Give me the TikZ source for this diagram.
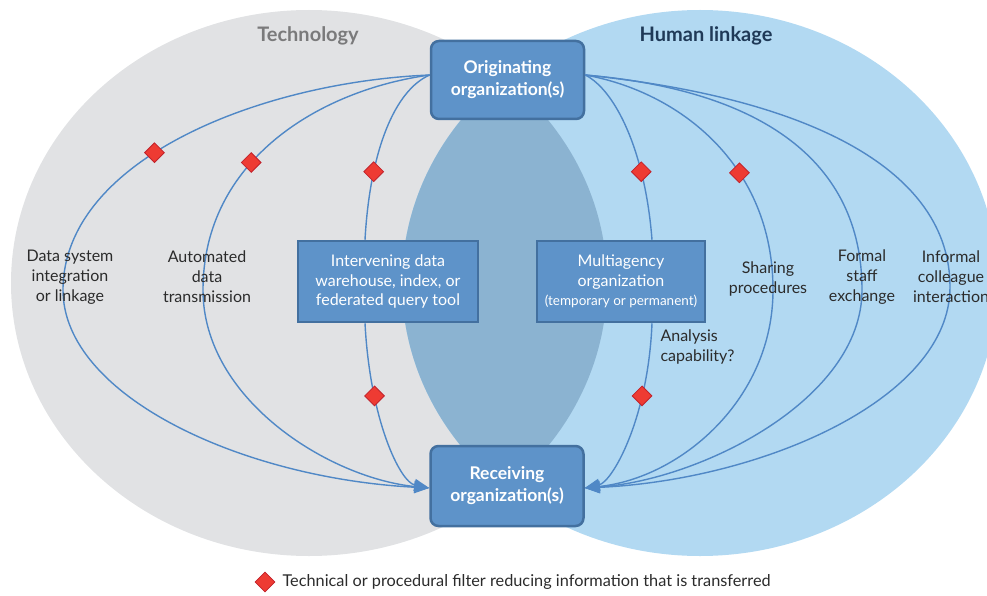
\documentclass[tikz,border=0pt]{standalone}
\usepackage{fontspec}
\setmainfont{Lato}
\usetikzlibrary{shapes.geometric,arrows.meta}
\definecolor{techgray}{HTML}{E1E2E4}
\definecolor{humanblue}{HTML}{B2D9F2}
\definecolor{overlapblue}{HTML}{8BB3D1}
\definecolor{boxfill}{HTML}{5E93C9}
\definecolor{boxedge}{HTML}{43709F}
\definecolor{linkblue}{HTML}{5088C6}
\definecolor{filtred}{HTML}{EE3B33}
\definecolor{filtedge}{HTML}{C1222B}
\definecolor{techtitle}{HTML}{7A7A7B}
\definecolor{humantitle}{HTML}{1F3957}
\definecolor{labeltext}{HTML}{2B2B2B}
\begin{document}
\begin{tikzpicture}[x=1pt,y=-1pt,
  orgbox/.style={draw=boxedge, fill=boxfill, line width=2.5pt, rounded corners=8pt, text=white,
    font=\fontsize{17.5}{22}\selectfont\bfseries, align=center, inner sep=0pt,
    minimum width=153pt, minimum height=78pt},
  midbox/.style={draw=boxedge, fill=boxfill, line width=2.5pt, text=white,
    font=\fontsize{16}{19.5}\selectfont, align=center, inner sep=0pt},
  link/.style={draw=linkblue, line width=1.4pt},
  linkarrow/.style={link, -{Triangle[length=15pt,width=12pt]}},
  filt/.style={diamond, draw=filtedge, fill=filtred, line width=0.8pt, inner sep=0pt,
    minimum width=20pt, minimum height=20pt},
  lab/.style={text=labeltext, font=\fontsize{16}{20}\selectfont, align=center},
  maintitle/.style={font=\fontsize{20}{24}\selectfont\bfseries}
]
\useasboundingbox (0,0) rectangle (987,596);
\clip (0,0) rectangle (987,596);
% background ellipses
\fill[techgray] (309,283) ellipse [x radius=298pt, y radius=273pt];
\fill[humanblue] (700,283) ellipse [x radius=298pt, y radius=273pt];
\begin{scope}
  \clip (309,283) ellipse [x radius=298pt, y radius=273pt];
  \fill[overlapblue] (700,283) ellipse [x radius=298pt, y radius=273pt];
\end{scope}
% titles
\node[maintitle, text=techtitle] (ttech) at (308,36) {Technology};
\node[maintitle, text=humantitle] (thum) at (706,36) {Human linkage};
% boxes
\node[orgbox] (orig) at (507.5,80) {Originating\\organization(s)};
\node[orgbox, minimum height=80pt] (recv) at (507,486) {Receiving\\organization(s)};
\node[midbox, minimum width=180pt, minimum height=81pt] (inter) at (388,281.5)
  {Intervening data\\warehouse, index, or\\federated query tool};
\node[midbox, minimum width=168pt, minimum height=81pt] (multi) at (621,281.5)
  {Multiagency\\organization\\{\fontsize{13.5}{15}\selectfont (temporary or permanent)}};
% connectors, technology side
\draw[linkarrow] ([yshift=5pt]orig.west) .. controls (260,82) and (63,160) .. (63,290) node[filt,pos=0.57]{}
  .. controls (63,395) and (240,478) .. ([yshift=-2pt]recv.west);
\draw[linkarrow] ([yshift=5pt]orig.west) .. controls (320,90) and (203,160) .. (203,290) node[filt,pos=0.6]{}
  .. controls (203,400) and (330,478) .. ([yshift=-2pt]recv.west);
\draw[link] ([yshift=5pt]orig.west) .. controls (395,90) and (370,150) .. ([xshift=-23pt]inter.north) node[filt,pos=0.72]{};
\draw[linkarrow] ([xshift=-23pt]inter.south) .. controls (370,420) and (400,482) .. ([yshift=-2pt]recv.west) node[filt,pos=0.28]{};
% connectors, human side
\draw[link] ([yshift=5pt]orig.east) .. controls (615,90) and (645,150) .. ([xshift=31pt]multi.north) node[filt,pos=0.72]{};
\draw[linkarrow] ([xshift=31pt]multi.south) .. controls (648,420) and (612,482) .. ([yshift=-2pt]recv.east) node[filt,pos=0.28]{};
\draw[linkarrow] ([yshift=5pt]orig.east) .. controls (680,92) and (773,165) .. (773,290) node[filt,pos=0.63]{}
  .. controls (773,400) and (680,478) .. ([yshift=-2pt]recv.east);
\draw[linkarrow] ([yshift=5pt]orig.east) .. controls (760,90) and (862,160) .. (862,290)
  .. controls (862,400) and (700,480) .. ([yshift=-2pt]recv.east);
\draw[linkarrow] ([yshift=5pt]orig.east) .. controls (810,98) and (950,170) .. (950,287)
  .. controls (950,400) and (760,480) .. ([yshift=-2pt]recv.east);
% labels
\node[lab] (dsi) at (70,277) {Data system\\integration\\or linkage};
\node[lab] (adt) at (207,277) {Automated\\data\\transmission};
\node[lab] (shp) at (768,279) {Sharing\\procedures};
\node[lab] (fse) at (862,277) {Formal\\staff\\exchange};
\node[lab] (ici) at (951,277) {Informal\\colleague\\interaction};
\node[lab, align=left, anchor=west] (anc) at (657,347) {Analysis\\capability?};
% legend
\node[filt] (legd) at (265,582) {};
\node[lab, anchor=west, font=\fontsize{16.3}{19}\selectfont] (legt) at (279,582)
  {Technical or procedural filter reducing information that is transferred};
\end{tikzpicture}
\end{document}
